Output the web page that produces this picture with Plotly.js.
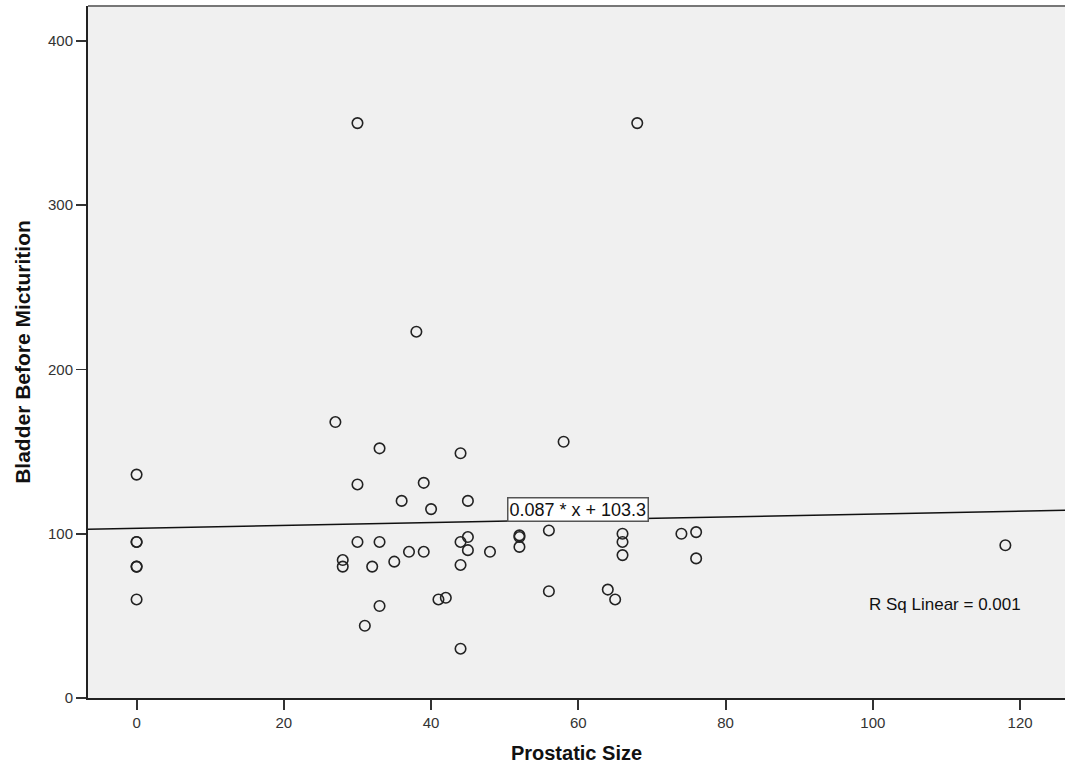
<!DOCTYPE html>
<html>
<head>
<meta charset="utf-8">
<script src="https://cdn.plot.ly/plotly-3.0.1.min.js"></script>
<style>
  html, body { margin: 0; padding: 0; background: #ffffff; }
  #chart { width: 1065px; height: 775px; }
</style>
</head>
<body>
<div id="chart"></div>
<script>
// Prostatic size (x) and bladder volume before micturition (y)
const prostaticSize = [
  0, 0, 0, 0, 0, 0,
  27, 28, 28, 30, 30, 30, 31, 32, 33, 33, 33, 35, 36, 37, 38, 39, 39, 40,
  41, 42, 44, 44, 44, 44, 45, 45, 45, 48, 52, 52, 52, 56, 56, 58,
  64, 65, 66, 66, 66, 68, 74, 76, 76, 118
];
const bladderBefore = [
  136, 95, 95, 80, 80, 60,
  168, 84, 80, 350, 130, 95, 44, 80, 152, 95, 56, 83, 120, 89, 223, 131, 89, 115,
  60, 61, 149, 95, 81, 30, 120, 98, 90, 89, 99, 98, 92, 102, 65, 156,
  66, 60, 100, 95, 87, 350, 100, 101, 85, 93
];
// Fit line reported in the chart
const fitSlope = 0.087;
const fitIntercept = 103.3;
const fitLabel = "0.087 * x + 103.3";
const rSqLabel = "R Sq Linear = 0.001";
const xTickVals = [0, 20, 40, 60, 80, 100, 120];
const yTickVals = [0, 100, 200, 300, 400];
const xRange = [-6.6, 126.1];
const yRange = [0, 421.3];

const fitX = [xRange[0], xRange[1]];
const fitY = fitX.map(v => fitSlope * v + fitIntercept);

const traces = [
  {
    type: 'scatter', mode: 'lines', x: fitX, y: fitY,
    line: { color: '#111111', width: 1.5 }, hoverinfo: 'skip', showlegend: false
  },
  {
    type: 'scatter', mode: 'markers', x: prostaticSize, y: bladderBefore,
    marker: { symbol: 'circle-open', size: 10.5, color: '#222222', line: { width: 1.6, color: '#222222' } },
    showlegend: false
  }
];

const layout = {
  width: 1065, height: 775,
  margin: { l: 88, r: 0, t: 6, b: 77 },
  paper_bgcolor: '#ffffff',
  plot_bgcolor: '#f0f0f0',
  showlegend: false,
  xaxis: {
    range: xRange, tickvals: xTickVals, ticktext: xTickVals.map(String),
    showgrid: false, zeroline: false,
    showline: true, linecolor: '#222222', linewidth: 2,
    ticks: 'outside', ticklen: 10, tickwidth: 2, tickcolor: '#333333',
    tickfont: { family: '"Liberation Sans Narrow", "Liberation Sans", Arial, sans-serif', size: 15, color: '#333333' },
    title: { text: 'Prostatic Size', standoff: 16,
      font: { family: '"Liberation Sans Narrow", "Liberation Sans", Arial, sans-serif', size: 20, color: '#111111', weight: 'bold' } }
  },
  yaxis: {
    range: yRange, tickvals: yTickVals, ticktext: yTickVals.map(String),
    showgrid: false, zeroline: false,
    showline: true, linecolor: '#222222', linewidth: 2,
    ticks: 'outside', ticklen: 10, tickwidth: 1.5, tickcolor: '#333333',
    tickfont: { family: '"Liberation Sans", Arial, sans-serif', size: 15, color: '#333333' },
    title: { text: 'Bladder Before Micturition', standoff: 12,
      font: { family: '"Liberation Sans Narrow", "Liberation Sans", Arial, sans-serif', size: 21, color: '#111111', weight: 'bold' } }
  },
  shapes: [
    { type: 'line', xref: 'paper', yref: 'paper', x0: 0, x1: 1, y0: 1, y1: 1,
      line: { color: '#777777', width: 2 } }
  ],
  annotations: [
    { xref: 'x', yref: 'y', x: 60, y: 115, text: fitLabel, showarrow: false,
      bgcolor: '#ffffff', bordercolor: '#555555', borderwidth: 1.5, borderpad: 1,
      font: { family: '"Liberation Sans", Arial, sans-serif', size: 18, color: '#111111' } },
    { xref: 'x', yref: 'y', x: 109.8, y: 57, text: rSqLabel, showarrow: false,
      font: { family: '"Liberation Sans", Arial, sans-serif', size: 17, color: '#111111' } }
  ]
};

Plotly.newPlot('chart', traces, layout, { displayModeBar: false, staticPlot: true });
</script>
</body>
</html>
